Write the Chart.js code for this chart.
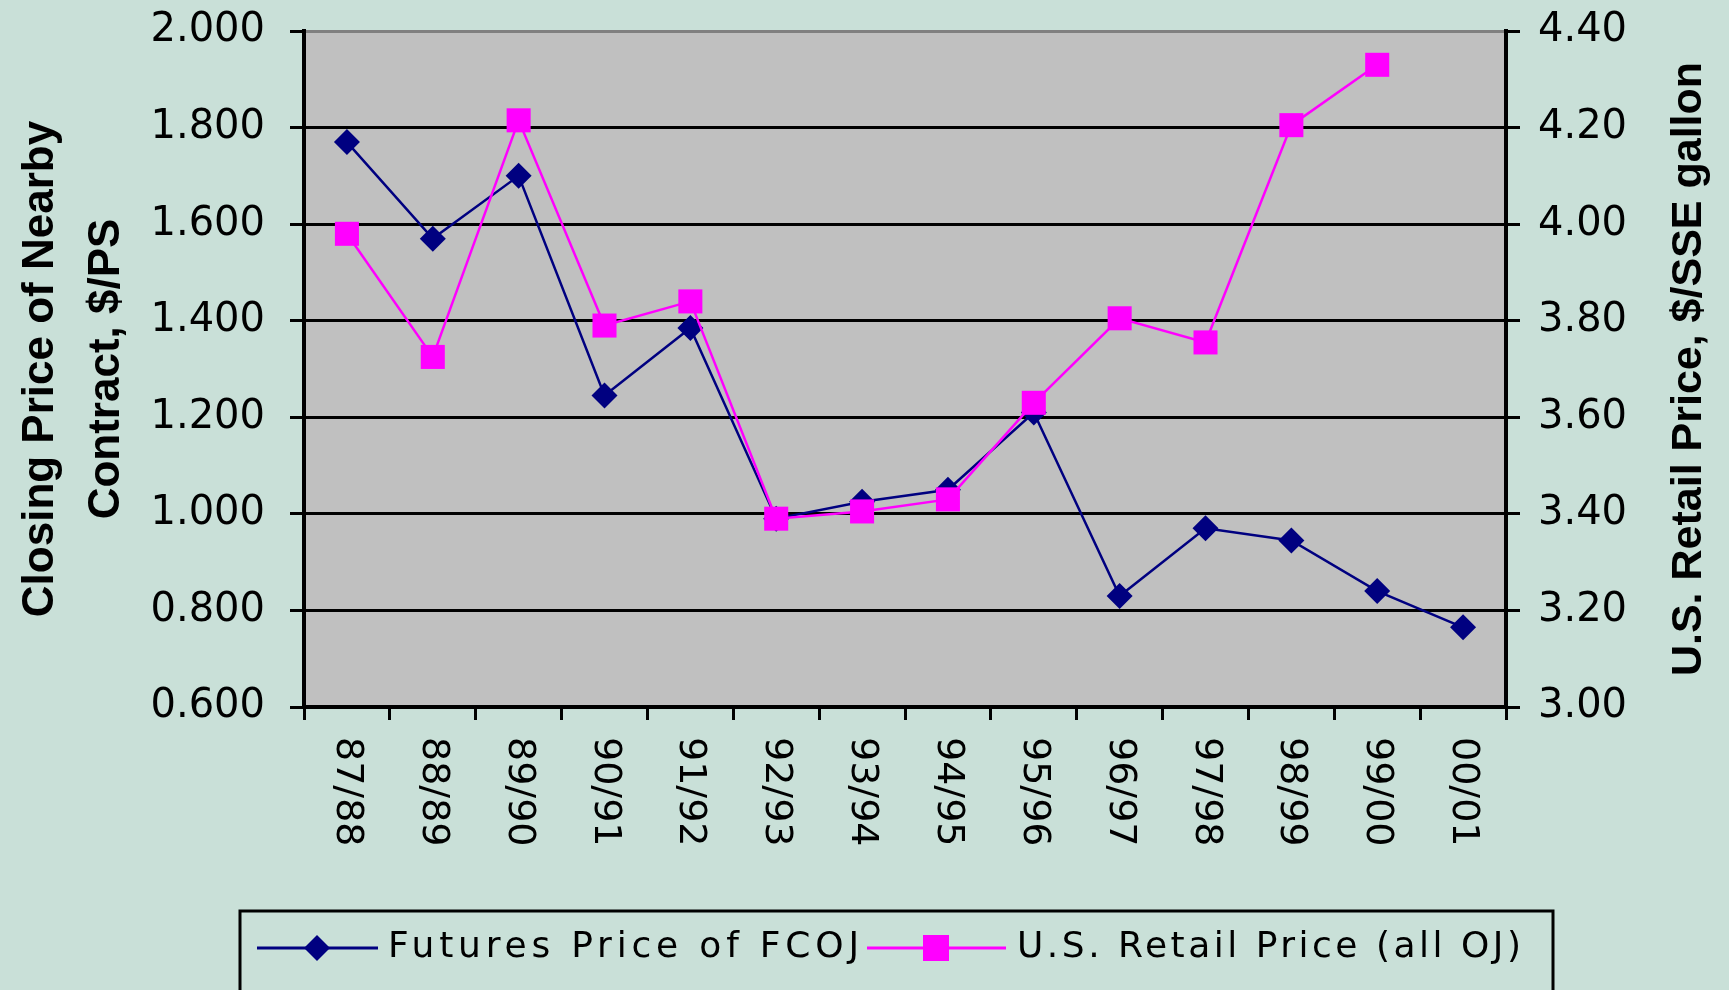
<!DOCTYPE html>
<html>
<head>
<meta charset="utf-8">
<script src="https://cdn.jsdelivr.net/npm/chart.js@4.4.1/dist/chart.umd.min.js"></script>
<style>
  html, body { margin: 0; padding: 0; background: #c9e0d8; }
  #wrap { width: 1729px; height: 990px; }
</style>
</head>
<body>
<div id="wrap"><canvas id="chart" width="1729" height="990"></canvas></div>
<script>
// ---- data ----
const seasons = ['87/88', '88/89', '89/90', '90/91', '91/92', '92/93', '93/94',
                 '94/95', '95/96', '96/97', '97/98', '98/99', '99/00', '00/01'];
const futuresPrice = [1.77, 1.57, 1.70, 1.245, 1.385, 0.99, 1.025, 1.05, 1.21, 0.83, 0.97, 0.945, 0.84, 0.765];
const retailPrice = [3.98, 3.725, 4.215, 3.79, 3.84, 3.39, 3.405, 3.43, 3.63, 3.805, 3.755, 4.205, 4.33, null];
const leftRange = [0.6, 2.0];
const rightRange = [3.0, 4.4];
const tickStep = 0.2;

const seriesNames = ['Futures Price of FCOJ', 'U.S. Retail Price (all OJ)'];
const leftTitle = ['Closing Price of Nearby', 'Contract, $/PS'];
const rightTitle = 'U.S. Retail Price, $/SSE gallon';

const NAVY = '#000080';
const MAGENTA = '#ff00ff';
const TICK_FONT = { family: "'DejaVu Sans', sans-serif", size: 40 };

// vertical axes: no extra label padding at the ends, fixed width
const fixWidth = w => s => { s.width = w; s.paddingTop = 0; s.paddingBottom = 0; };

// plot background, custom x labels, right title, legend box
const decor = {
  id: 'decor',
  beforeDraw(chart) {
    const { ctx, chartArea: a } = chart;
    ctx.save();
    ctx.fillStyle = '#c0c0c0';
    ctx.fillRect(a.left, a.top, a.right - a.left, a.bottom - a.top);
    ctx.restore();
  },
  afterDraw(chart) {
    const { ctx } = chart;
    const xs = chart.scales.x;
    ctx.save();
    ctx.fillStyle = '#000';

    // x labels, rotated clockwise (read top to bottom)
    ctx.font = "38px 'DejaVu Sans', sans-serif";
    ctx.textAlign = 'left';
    ctx.textBaseline = 'middle';
    seasons.forEach((s, i) => {
      ctx.save();
      ctx.translate(xs.getPixelForValue(i), xs.top + 30);
      ctx.rotate(Math.PI / 2);
      ctx.fillText(s, 0, 0);
      ctx.restore();
    });

    // right axis title, reads bottom to top
    ctx.save();
    ctx.font = "bold 43px 'Liberation Sans', Arial, sans-serif";
    ctx.textAlign = 'center';
    ctx.translate(1689, 369);
    ctx.rotate(-Math.PI / 2);
    ctx.fillText(rightTitle, 0, 0);
    ctx.restore();

    // legend
    ctx.lineWidth = 3;
    ctx.strokeStyle = '#000';
    ctx.strokeRect(240, 911, 1313, 120);
    const ly = 948;
    ctx.strokeStyle = NAVY;
    ctx.beginPath(); ctx.moveTo(257, ly); ctx.lineTo(378, ly); ctx.stroke();
    ctx.fillStyle = NAVY;
    ctx.beginPath();
    ctx.moveTo(317 - 13, ly); ctx.lineTo(317, ly - 13); ctx.lineTo(317 + 13, ly); ctx.lineTo(317, ly + 13);
    ctx.closePath(); ctx.fill();
    ctx.strokeStyle = MAGENTA;
    ctx.beginPath(); ctx.moveTo(867, ly); ctx.lineTo(1006, ly); ctx.stroke();
    ctx.fillStyle = MAGENTA;
    ctx.fillRect(936 - 13, ly - 13, 26, 26);

    ctx.fillStyle = '#000';
    ctx.font = "36px 'DejaVu Sans', sans-serif";
    ctx.textAlign = 'left';
    ctx.letterSpacing = '4.8px';
    ctx.fillText(seriesNames[0], 388, ly);
    ctx.letterSpacing = '3.5px';
    ctx.fillText(seriesNames[1], 1017, ly);
    ctx.restore();
  },
};

new Chart(document.getElementById('chart'), {
  type: 'line',
  data: {
    labels: seasons,
    datasets: [
      {
        label: seriesNames[0],
        data: futuresPrice,
        yAxisID: 'y',
        borderColor: NAVY,
        backgroundColor: NAVY,
        borderWidth: 2.5,
        pointStyle: 'rectRot',
        pointRadius: 13,
        pointBorderWidth: 0,
        tension: 0,
        order: 1,
      },
      {
        label: seriesNames[1],
        data: retailPrice,
        yAxisID: 'y1',
        borderColor: MAGENTA,
        backgroundColor: MAGENTA,
        borderWidth: 2.5,
        pointStyle: 'rect',
        pointRadius: 17,
        pointBorderWidth: 0,
        tension: 0,
        order: 0,
      },
    ],
  },
  options: {
    responsive: false,
    animation: false,
    layout: { padding: { top: 31, left: 0, right: 0, bottom: 0 } },
    plugins: { legend: { display: false }, tooltip: { enabled: false } },
    scales: {
      x: {
        type: 'category',
        offset: true,
        afterFit: s => { s.height = 283; },
        grid: { offset: true, drawOnChartArea: false, color: '#000', lineWidth: 3, tickLength: 13 },
        border: { color: '#000', width: 4 },
        ticks: { display: false },
      },
      y: {
        position: 'left',
        min: leftRange[0],
        max: leftRange[1],
        afterFit: fixWidth(304),
        ticks: {
          stepSize: tickStep,
          color: '#000',
          font: TICK_FONT,
          padding: 25,
          callback: v => v.toFixed(3),
        },
        grid: {
          color: c => (c.tick && c.tick.value > 1.999 ? '#808080' : '#000'),
          tickColor: '#000',
          lineWidth: 3,
          tickLength: 14,
        },
        border: { color: '#000', width: 4 },
        title: {
          display: true,
          text: leftTitle,
          color: '#000',
          font: { family: "'Liberation Sans', Arial, sans-serif", size: 44, weight: 'bold', lineHeight: 1.5 },
          padding: { top: 8, bottom: 0 },
        },
      },
      y1: {
        position: 'right',
        min: rightRange[0],
        max: rightRange[1],
        afterFit: fixWidth(223),
        ticks: {
          stepSize: tickStep,
          color: '#000',
          font: TICK_FONT,
          padding: 18,
          callback: v => v.toFixed(2),
        },
        grid: { drawOnChartArea: false, color: '#000', lineWidth: 3, tickLength: 14 },
        border: { color: '#000', width: 4 },
      },
    },
  },
  plugins: [decor],
});
</script>
</body>
</html>
